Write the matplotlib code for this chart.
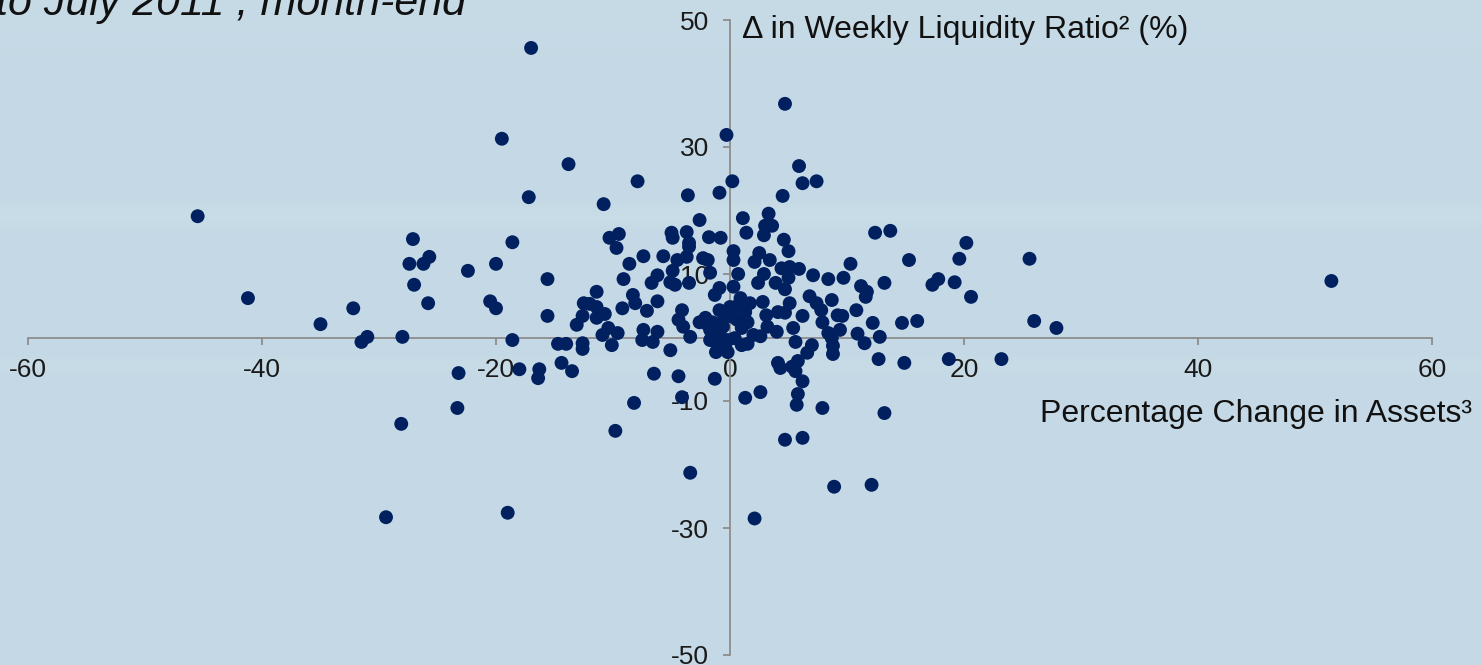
import numpy as np
import matplotlib
matplotlib.use('Agg')
import matplotlib.pyplot as plt

# percentage change in assets (x) and change in weekly liquidity ratio (y)
asset_chg = [
    -45.5, -41.2, -35.0, -32.2, -31.5, -31.0, -28.0, -27.1, -27.4, -26.2,
    -25.7, -27.0, -25.8, -22.4, -20.5, -20.0, -20.0, -18.6, -19.5, -17.0,
    -17.2, -13.8, -10.8, -7.9, -3.6, -0.9, -0.3, 0.2, -23.2, -23.3,
    -28.1, -29.4, -19.0, -18.6, -18.0, -16.3, -16.4, -14.4, -13.5, -15.6,
    -15.6,
    -2.6, -10.3, -9.5, -9.7, -5.0, -4.9, -3.7, -3.5, -3.5, -1.8,
    -0.8, -7.4, -5.7, -8.6, -4.5, -3.7, -2.3, -1.9, 0.3, 0.3,
    -4.9, -1.7, -6.2, -6.7, -9.1, -5.1, -4.7, -3.5, 0.7, -0.9,
    -1.3, -11.4, -8.3, -8.1, -12.5, -12.0, -11.4, -6.2, -9.2, -7.1,
    -4.1, -12.6, -10.7, -11.4, -13.1, -4.4, -4.0, -2.6, -1.9, 0.0,
    0.3, -0.6, -0.9, 0.6, -10.4, -10.9, -9.6, -7.4, -6.2, -7.5,
    -6.6, -3.4, -1.7, -1.1, -14.7, -14.0, -12.6, -12.6, -10.1, -5.1,
    -0.2, -1.2, -0.2, -6.5, -4.4, -1.3, -8.2, -4.1, -9.8, -3.4,
    4.7, 5.9, 6.2, 7.4, 4.5, 3.3, 1.1, 3.6, 3.0, 2.9,
    1.4, 4.6, 5.0, 12.4, 13.7, 20.2, 15.3, 19.6, 10.3, 2.5,
    2.1, 3.4, 4.4, 5.1, 5.9, 2.9, 2.4, 3.9, 5.0, 4.7,
    7.1, 8.4, 9.7, 11.2, 11.7, 11.6, 13.2, 17.3, 17.8, 19.2,
    20.6, 25.6, 51.4, 26.0, 27.9, 23.2, 0.3, 0.9, 6.8, 7.4,
    7.8, 8.7, 2.8, 1.7, 5.1, 10.8, 9.2, 9.6, 6.2, 3.1,
    4.1, 4.7, 7.9, 12.2, 14.7, 16.0, 9.4, 8.4, 8.7, 10.9,
    11.5, 12.8, 5.4, 4.0, 3.2, 2.0, 2.6, 5.6, 7.0, 1.5,
    6.6, 8.8, 8.8, 4.1, 4.3, 5.3, 5.8, 5.6, 6.2, 12.7,
    14.9, 18.7, 1.3, 2.6, 5.8, 5.7, 7.9, 13.2, 4.7, 6.2,
    8.9, 12.1, 2.1,
    -2.1, -1.5, -0.5, 1.0, 0.4, 1.0, -0.4, 1.3, 0.7, -0.9,
    1.5, -1.7,
]
wlr_chg = [
    19.1, 6.2, 2.1, 4.6, -0.7, 0.1, 0.1, 15.5, 11.6, 11.6,
    12.7, 8.3, 5.4, 10.5, 5.7, 4.6, 11.6, 15.0, 31.3, 45.6,
    22.1, 27.3, 21.0, 24.6, 22.4, 22.8, 31.9, 24.6, -5.6, -11.1,
    -13.6, -28.3, -27.6, -0.4, -5.0, -5.0, -6.4, -4.0, -5.3, 9.2,
    3.4,
    18.5, 15.7, 16.3, 14.1, 16.5, 15.7, 16.6, 14.9, 14.3, 15.8,
    15.7, 12.8, 12.8, 11.6, 12.2, 12.7, 12.5, 12.2, 13.6, 12.2,
    10.5, 10.2, 9.8, 8.6, 9.2, 8.7, 8.3, 8.6, 10.0, 7.8,
    6.7, 7.2, 6.7, 5.4, 5.4, 5.3, 4.8, 5.7, 4.6, 4.2,
    4.3, 3.4, 3.7, 3.1, 2.0, 2.8, 1.7, 2.4, 2.0, 4.8,
    3.2, 1.7, 0.7, 2.8, 1.5, 0.4, 0.7, 1.2, 0.9, -0.4,
    -0.7, 0.1, -0.4, -0.9, -1.0, -1.0, -0.9, -1.8, -1.2, -2.0,
    -0.4, -2.3, -2.3, -5.7, -6.1, -6.5, -10.3, -9.4, -14.7, -21.3,
    36.8, 27.0, 24.3, 24.6, 22.3, 19.5, 18.8, 17.6, 17.6, 16.1,
    16.5, 15.4, 13.6, 16.5, 16.8, 14.9, 12.2, 12.4, 11.6, 13.3,
    11.9, 12.2, 10.9, 11.1, 10.8, 10.0, 8.6, 8.6, 9.4, 7.6,
    9.8, 9.2, 9.4, 8.1, 7.2, 6.4, 8.6, 8.3, 9.2, 8.7,
    6.4, 12.4, 8.9, 2.6, 1.5, -3.4, 8.0, 6.2, 6.5, 5.4,
    4.3, 5.9, 5.6, 5.4, 5.4, 4.3, 3.5, 3.4, 3.4, 3.5,
    4.0, 3.9, 2.4, 2.3, 2.3, 2.6, 1.2, 0.7, -0.1, 0.6,
    -0.9, 0.1, 1.5, 0.9, 1.7, 0.4, 0.2, -0.7, -1.2, -1.0,
    -2.4, -1.3, -2.6, -4.0, -4.8, -4.6, -3.7, -5.3, -6.9, -3.4,
    -4.0, -3.4, -9.5, -8.6, -8.9, -10.6, -11.1, -11.9, -16.1, -15.8,
    -23.5, -23.2, -28.5,
    3.1, 2.4, 3.1, 1.5, -0.1, -1.2, -1.2, 4.0, 5.1, 4.3,
    2.4, 1.2,
]

x_ticks = [-60, -40, -20, 0, 20, 40, 60]
y_ticks = [-50, -30, -10, 10, 30, 50]

bg = '#c5dae6'
fam = ['Liberation Sans', 'DejaVu Sans']

fig = plt.figure(figsize=(14.82, 6.65), dpi=100)
fig.patch.set_facecolor(bg)

# soft horizontal streaks of the slide background
bgax = fig.add_axes([0, 0, 1, 1], zorder=-1)
rows = np.arange(665)
grad = (0.45 * np.exp(-((rows - 215) / 12.0) ** 2)
        + 0.35 * np.exp(-((rows - 365) / 8.0) ** 2)
        + 0.25 * np.exp(-(rows / 60.0) ** 2))
bgcmap = matplotlib.colors.LinearSegmentedColormap.from_list('bgc', ['#c4d9e5', '#cfe1ec'])
bgax.imshow(grad[:, None], aspect='auto', cmap=bgcmap, vmin=0, vmax=1,
            extent=[0, 1, 0, 1])
bgax.axis('off')

ax = fig.add_axes([28 / 1482, 10 / 665, 1404 / 1482, 635 / 665])
ax.patch.set_alpha(0)
ax.scatter(asset_chg, wlr_chg, s=100, color='#002060', edgecolors='none', zorder=3)

ax.set_xlim(-60, 60)
ax.set_ylim(-50, 50)
for s in ['top', 'right']:
    ax.spines[s].set_visible(False)
for s in ['left', 'bottom']:
    ax.spines[s].set_position('zero')
    ax.spines[s].set_color('#8c8c8c')
    ax.spines[s].set_linewidth(1.3)

ax.set_xticks(x_ticks)
ax.set_yticks(y_ticks)
ax.set_xticklabels([str(v) for v in x_ticks], fontfamily=fam, fontsize=19, color='#1a1a1a')
ax.set_yticklabels([str(v) for v in y_ticks], fontfamily=fam, fontsize=19, color='#1a1a1a')
ax.tick_params(axis='both', direction='out', length=5, width=1.3, color='#8c8c8c', pad=10)

fig.text(742 / 1482, 1 - 30 / 665, '\u0394 in Weekly Liquidity Ratio\u00b2 (%)',
         fontfamily=fam, fontsize=23, color='#111111', ha='left', va='center')
fig.text(1472 / 1482, 1 - 414 / 665, 'Percentage Change in Assets\u00b3',
         fontfamily=fam, fontsize=23, color='#111111', ha='right', va='center')
fig.text(-4 / 1482, 1 - 15 / 665, 'to July 2011 , month-end', fontfamily=fam,
         fontsize=31, style='italic', color='#111111', ha='left', va='baseline')

fig.savefig('out.png', dpi=100, facecolor=bg)
